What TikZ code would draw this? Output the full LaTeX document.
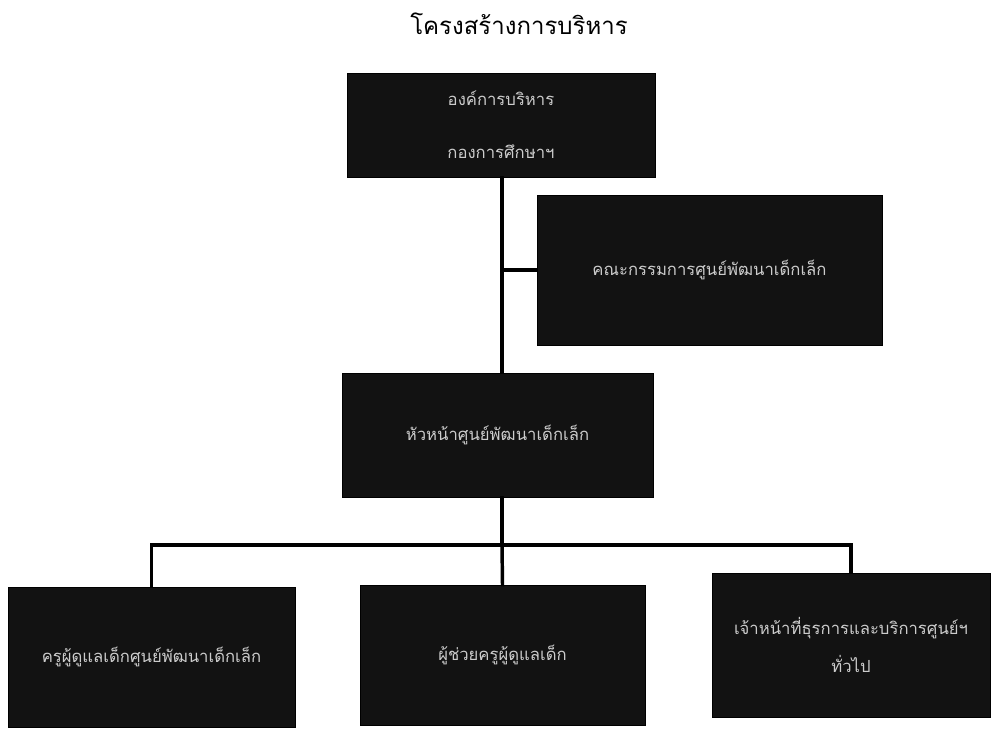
\documentclass[tikz,border=0pt]{standalone}
\usepackage{fontspec}
\newfontfamily\thaifont[Script=Thai]{Loma}
\tikzset{
  unitbox/.style={fill=black!93, draw=black, text=white!80!black, align=center,
    font=\thaifont\fontsize{12.5}{15}\selectfont, inner sep=0pt},
  link/.style={line width=2.6pt, line cap=rect}
}
\begin{document}
\begin{tikzpicture}[x=0.75pt,y=-0.75pt]
    \useasboundingbox (0,0) rectangle (993,734);
    \node[font=\thaifont\fontsize{18}{21}\selectfont] (title) at (519,24) {โครงสร้างการบริหาร};
    % boxes
    \node[unitbox, minimum width=231pt, minimum height=78pt] (top) at (501,125)
        {องค์การบริหาร\\[25pt]กองการศึกษาฯ};
    \node[unitbox, minimum width=258.75pt, minimum height=112.5pt] (board) at (709.5,270)
        {คณะกรรมการศูนย์พัฒนาเด็กเล็ก};
    \node[unitbox, minimum width=233.25pt, minimum height=93pt] (head) at (497.5,435)
        {หัวหน้าศูนย์พัฒนาเด็กเล็ก};
    \node[unitbox, minimum width=215.25pt, minimum height=105pt] (teach) at (151.5,657)
        {ครูผู้ดูแลเด็กศูนย์พัฒนาเด็กเล็ก};
    \node[unitbox, minimum width=213.75pt, minimum height=105pt] (assist) at (502.5,655)
        {ผู้ช่วยครูผู้ดูแลเด็ก};
    \node[unitbox, minimum width=208.5pt, minimum height=108pt] (staff) at (851,645)
        {เจ้าหน้าที่ธุรการและบริการศูนย์ฯ\\[12pt]ทั่วไป};
    % connectors
    \coordinate (bus) at (502,545);
    \draw[link] (top.south -| bus) -- (head.north -| bus);
    \draw[link] (board.west) -- (board.west -| bus);
    \draw[link] (head.south -| bus) -- (bus);
    \draw[link] (teach.north) |- (bus) -| (staff.north);
    \draw[link] (bus) -- (assist.north);
\end{tikzpicture}
\end{document}
